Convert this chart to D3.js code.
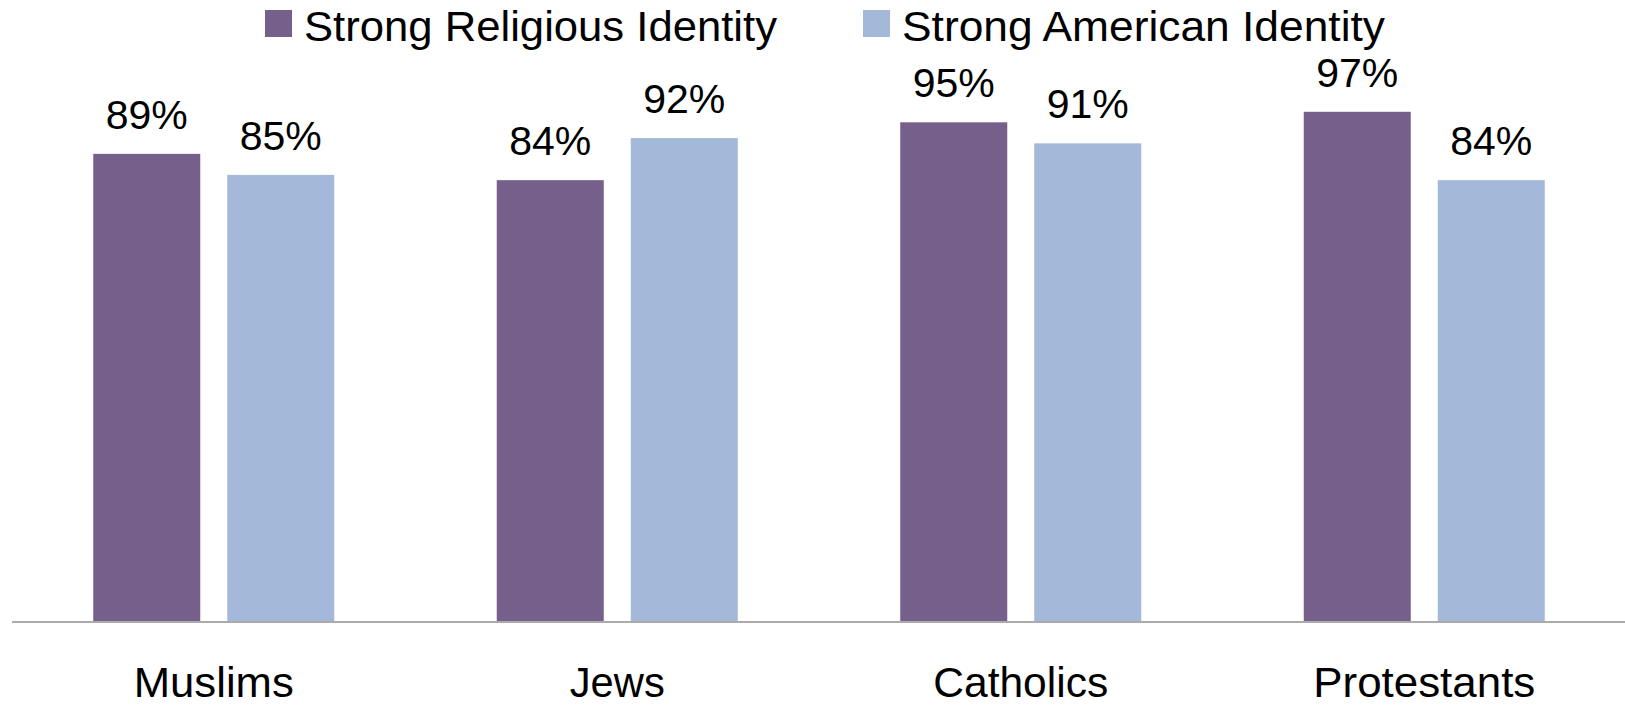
<!DOCTYPE html>
<html>
<head>
<meta charset="utf-8">
<script src="https://cdn.jsdelivr.net/npm/d3@7"></script>
<style>
  html, body { margin: 0; padding: 0; background: #fff; }
  svg { display: block; }
  text { font-family: "Liberation Sans", Arial, sans-serif; fill: #000; }
</style>
</head>
<body>
<svg id="chart" width="1625" height="706"></svg>
<script>
const categories = ["Muslims", "Jews", "Catholics", "Protestants"];
const seriesNames = ["Strong Religious Identity", "Strong American Identity"];
const religiousValues = [89, 84, 95, 97];
const americanValues = [85, 92, 91, 84];
const seriesColors = ["#775F8C", "#A4B8D9"];

const svg = d3.select("#chart");
const baseY = 622;

const x0 = d3.scaleBand().domain(categories).range([12, 1626]).padding(0);
const groupW = 241;
const x1 = d3.scaleBand().domain(seriesNames).range([0, groupW]).paddingInner(0.2015).paddingOuter(0);
const y = d3.scaleLinear().domain([0, 100]).range([baseY, 96]);

const data = categories.map((c, i) => ({
  cat: c,
  vals: [
    { s: seriesNames[0], v: religiousValues[i], color: seriesColors[0] },
    { s: seriesNames[1], v: americanValues[i], color: seriesColors[1] }
  ]
}));

const groups = svg.selectAll("g.grp").data(data).join("g")
  .attr("class", "grp")
  .attr("transform", d => `translate(${x0(d.cat) + x0.bandwidth() / 2 - groupW / 2},0)`);

groups.selectAll("rect").data(d => d.vals).join("rect")
  .attr("x", d => x1(d.s))
  .attr("y", d => y(d.v))
  .attr("width", x1.bandwidth())
  .attr("height", d => baseY - y(d.v))
  .attr("fill", d => d.color);

groups.selectAll("text.val").data(d => d.vals).join("text")
  .attr("class", "val")
  .attr("x", d => x1(d.s) + x1.bandwidth() / 2)
  .attr("y", d => y(d.v) - 25)
  .attr("text-anchor", "middle")
  .attr("font-size", 41)
  .text(d => d.v + "%");

// axis
const catWidths = { "Muslims": 160, "Jews": 95, "Catholics": 175, "Protestants": 222 };
const xAxis = d3.axisBottom(x0).tickSize(0).tickPadding(50);
const ax = svg.append("g").attr("transform", `translate(0,${baseY})`).call(xAxis);
ax.select(".domain").attr("stroke", "#ababab").attr("stroke-width", 2).attr("d", "M12,0H1625");
ax.selectAll(".tick text")
  .attr("font-size", 43)
  .attr("fill", "#000")
  .attr("dy", null)
  .attr("y", 75)
  .attr("textLength", d => catWidths[d])
  .attr("lengthAdjust", "spacingAndGlyphs")
  .style("font-family", '"Liberation Sans", Arial, sans-serif');

// legend
const legendX = [265, 863];
const legendTextW = [473, 483];
const leg = svg.selectAll("g.leg").data(seriesNames).join("g")
  .attr("class", "leg")
  .attr("transform", (d, i) => `translate(${legendX[i]},10)`);
leg.append("rect").attr("width", 27).attr("height", 27).attr("fill", (d, i) => seriesColors[i]);
leg.append("text").attr("x", 39).attr("y", 31).attr("font-size", 42)
  .attr("textLength", (d, i) => legendTextW[i])
  .attr("lengthAdjust", "spacingAndGlyphs")
  .text(d => d);
</script>
</body>
</html>
